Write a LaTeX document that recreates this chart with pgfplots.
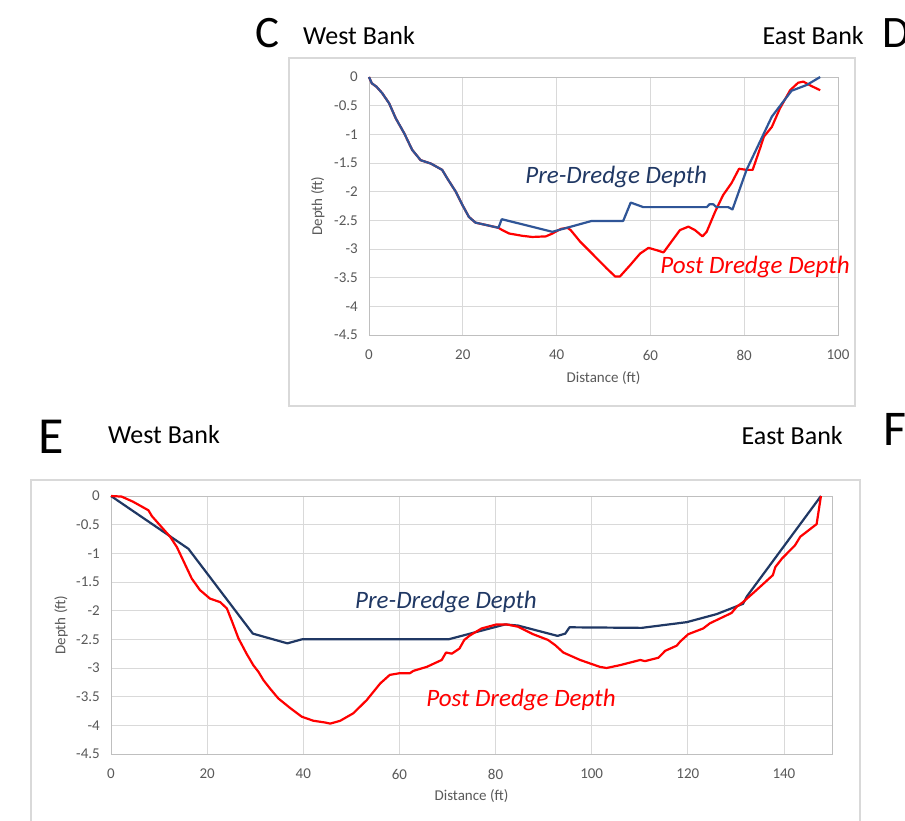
\documentclass[border=0pt]{standalone}
\usepackage{fontspec}
\setmainfont{Carlito}
\usepackage{pgfplots}
\pgfplotsset{compat=1.18}
\definecolor{navy}{HTML}{203864}
\definecolor{topblue}{HTML}{2F5597}
\definecolor{gridc}{HTML}{D9D9D9}
\definecolor{axisc}{HTML}{BFBFBF}
\definecolor{tickc}{HTML}{595959}
\definecolor{myred}{HTML}{FF0000}
\pgfplotsset{
  mystyle/.style={
    scale only axis,
    axis line style={draw=axisc, line width=0.8pt},
    grid=major,
    major grid style={draw=gridc, line width=0.8pt},
    major tick length=0pt,
    tick label style={font=\fontsize{15}{18}\selectfont, text=tickc, inner sep=0pt},
    ymin=-4.5, ymax=0,
    ytick={-4.5,-4,-3.5,-3,-2.5,-2,-1.5,-1,-0.5,0},
    yticklabels={{-4.5},{-4},{-3.5},{-3},{-2.5},{-2},{-1.5},{-1},{-0.5},{0}},
    yticklabel style={anchor=east, xshift=-11pt},
    xticklabel style={anchor=center, yshift=-20pt},
    ylabel={Depth (ft)},
    xlabel={Distance (ft)},
    clip=false,
  },
  redline/.style={color=myred, line width=2.2pt, line join=round, mark=none},
}
\begin{document}
\begin{tikzpicture}
\path[use as bounding box, clip] (0pt,0pt) rectangle (905pt,-821pt);
\fill[white] (0pt,0pt) rectangle (905pt,-821pt);
% chart borders
\draw[gridc, line width=1.2pt] (289pt,-58pt) rectangle (855pt,-406pt);
\draw[gridc, line width=1.2pt] (31pt,-480pt) rectangle (860pt,-840pt);

% panel letters and bank labels
\node[anchor=base west, inner sep=0pt, font=\fontsize{45}{50}\selectfont] at (255pt,-48pt) {C};
\node[anchor=base west, inner sep=0pt, font=\fontsize{26}{30}\selectfont] at (303pt,-45pt) {West Bank};
\node[anchor=base east, inner sep=0pt, font=\fontsize{26}{30}\selectfont] at (864pt,-45pt) {East Bank};
\node[anchor=base west, inner sep=0pt, font=\fontsize{45}{50}\selectfont] at (882pt,-48pt) {D};
\node[anchor=base west, inner sep=0pt, font=\fontsize{52}{56}\selectfont] at (38pt,-453pt) {E};
\node[anchor=base west, inner sep=0pt, font=\fontsize{26}{30}\selectfont] at (108pt,-443pt) {West Bank};
\node[anchor=base east, inner sep=0pt, font=\fontsize{26}{30}\selectfont] at (843pt,-444pt) {East Bank};
\node[anchor=base west, inner sep=0pt, font=\fontsize{50}{56}\selectfont] at (883pt,-445pt) {F};

% ---------- Top chart (C-D) ----------
\begin{axis}[mystyle,
  at={(369pt,-335pt)}, anchor=south west,
  width=469pt, height=258pt,
  xmin=0, xmax=100,
  xtick={0,20,40,60,80,100},
  xticklabels={0,20,40,60,80,100},
  every axis y label/.style={at={(axis description cs:-0.109,0.5)}, rotate=90, anchor=center, font=\fontsize{15}{18}\selectfont, text=tickc},
  every axis x label/.style={at={(axis description cs:0.5,-0.167)}, anchor=center, font=\fontsize{15}{18}\selectfont, text=tickc},
]
\addplot[redline] coordinates {
(0,0) (0.6,-0.11) (1.6,-0.17) (2.8,-0.28) (4.3,-0.46) (5.7,-0.72) (7.5,-0.98)
(9.2,-1.27) (11.0,-1.45) (13.2,-1.51) (15.6,-1.62) (16.7,-1.77) (18.5,-2.00)
(19.9,-2.23) (21.3,-2.44) (22.7,-2.54) (24.9,-2.58) (27.6,-2.63)
(28.4,-2.67) (29.9,-2.73) (32.7,-2.77) (34.8,-2.79) (37.7,-2.78) (39.1,-2.73)
(40.9,-2.65) (42.3,-2.63) (43.0,-2.67) (45.0,-2.87) (47.8,-3.10) (50.7,-3.34)
(52.5,-3.48) (53.5,-3.48) (55.7,-3.28) (57.8,-3.08) (59.6,-2.98) (61.3,-3.02)
(62.8,-3.06) (64.5,-2.87) (66.3,-2.67) (68.1,-2.61) (69.5,-2.67) (71.1,-2.78)
(72.0,-2.70) (73.8,-2.35) (75.5,-2.06) (77.3,-1.85) (78.9,-1.60) (80.5,-1.62)
(81.8,-1.62) (83.4,-1.24) (84.2,-1.04) (85.9,-0.87) (87.6,-0.55) (89.8,-0.23)
(91.5,-0.10) (92.6,-0.08) (94.4,-0.16) (96.2,-0.23)
};
\addplot[color=topblue, line width=2.2pt, line join=round, mark=none] coordinates {
(0,0) (0.6,-0.11) (1.6,-0.17) (2.8,-0.28) (4.3,-0.46) (5.7,-0.72) (7.5,-0.98)
(9.2,-1.27) (11.0,-1.45) (13.2,-1.51) (15.6,-1.62) (16.7,-1.77) (18.5,-2.00)
(19.9,-2.23) (21.3,-2.44) (22.7,-2.54) (24.9,-2.58) (27.6,-2.63) (28.3,-2.48)
(39.1,-2.70) (47.5,-2.51) (54.2,-2.51) (55.8,-2.19) (58.5,-2.27) (72.0,-2.27)
(72.6,-2.22) (73.4,-2.22) (74.1,-2.27) (76.6,-2.27) (77.5,-2.31) (80.5,-1.62)
(85.9,-0.69) (90.1,-0.24) (93.3,-0.14) (96.2,0)
};
\node[font=\fontsize{25}{30}\selectfont\itshape, text=navy] at (axis cs:52.7,-1.744) {Pre-Dredge Depth};
\node[font=\fontsize{25}{30}\selectfont\itshape, text=myred] at (axis cs:82.3,-3.31) {Post Dredge Depth};
\end{axis}

% ---------- Bottom chart (E-F) ----------
\begin{axis}[mystyle,
  at={(111pt,-754pt)}, anchor=south west,
  width=721pt, height=258pt,
  xmin=0, xmax=150,
  xtick={0,20,40,60,80,100,120,140},
  xticklabels={0,20,40,60,80,100,120,140},
  every axis y label/.style={at={(axis description cs:-0.0693,0.5)}, rotate=90, anchor=center, font=\fontsize{15}{18}\selectfont, text=tickc},
  every axis x label/.style={at={(axis description cs:0.5,-0.163)}, anchor=center, font=\fontsize{15}{18}\selectfont, text=tickc},
]
\addplot[color=navy, line width=2.2pt, line join=round, mark=none] coordinates {
(0,0) (16.1,-0.92) (29.5,-2.40) (36.7,-2.57) (39.7,-2.50) (70.2,-2.50)
(82.0,-2.24) (84.7,-2.26) (92.9,-2.44) (94.5,-2.40) (95.4,-2.29) (110.4,-2.30)
(119.8,-2.20) (126.0,-2.06) (131.5,-1.88) (132.3,-1.75) (147.7,0)
};
\addplot[redline] coordinates {
(0,0) (2.2,-0.01) (4.6,-0.10) (7.8,-0.25) (8.5,-0.35) (10.5,-0.54) (12.3,-0.71)
(13.7,-0.89) (15.0,-1.12) (16.8,-1.44) (18.5,-1.64) (20.6,-1.79) (22.7,-1.85)
(24.1,-1.96) (25.1,-2.17) (26.5,-2.48) (28.2,-2.75) (29.6,-2.95) (30.7,-3.07)
(31.7,-3.21) (33.1,-3.36) (34.8,-3.53) (37.3,-3.70) (39.7,-3.85) (42.1,-3.92)
(44.5,-3.95) (45.6,-3.97) (47.7,-3.92) (50.4,-3.79) (53.2,-3.56) (56.0,-3.27)
(58.0,-3.12) (60.1,-3.09) (62.2,-3.09) (62.9,-3.05) (65.7,-2.98) (68.8,-2.86)
(69.7,-2.73) (70.9,-2.75) (72.5,-2.66) (73.5,-2.51) (74.7,-2.43) (77.1,-2.31)
(80.2,-2.24) (82.3,-2.24) (84.7,-2.28) (87.8,-2.41) (90.9,-2.51) (92.4,-2.60)
(94.1,-2.73) (97.6,-2.86) (101.7,-2.98) (103.1,-3.00) (105.9,-2.95) (110.1,-2.86)
(111.1,-2.88) (113.9,-2.82) (115.3,-2.70) (117.7,-2.61) (118.4,-2.54) (120.1,-2.41)
(123.2,-2.31) (124.6,-2.22) (129.1,-2.04) (130.2,-1.93) (131.5,-1.85) (134.3,-1.64)
(137.7,-1.38) (138.2,-1.24) (139.6,-1.09) (142.3,-0.86) (143.4,-0.71) (146.8,-0.49)
(147.7,0)
};
\node[font=\fontsize{25}{30}\selectfont\itshape, text=navy] at (axis cs:69.7,-1.85) {Pre-Dredge Depth};
\node[font=\fontsize{25}{30}\selectfont\itshape, text=myred] at (axis cs:85.3,-3.56) {Post Dredge Depth};
\end{axis}
\end{tikzpicture}
\end{document}
